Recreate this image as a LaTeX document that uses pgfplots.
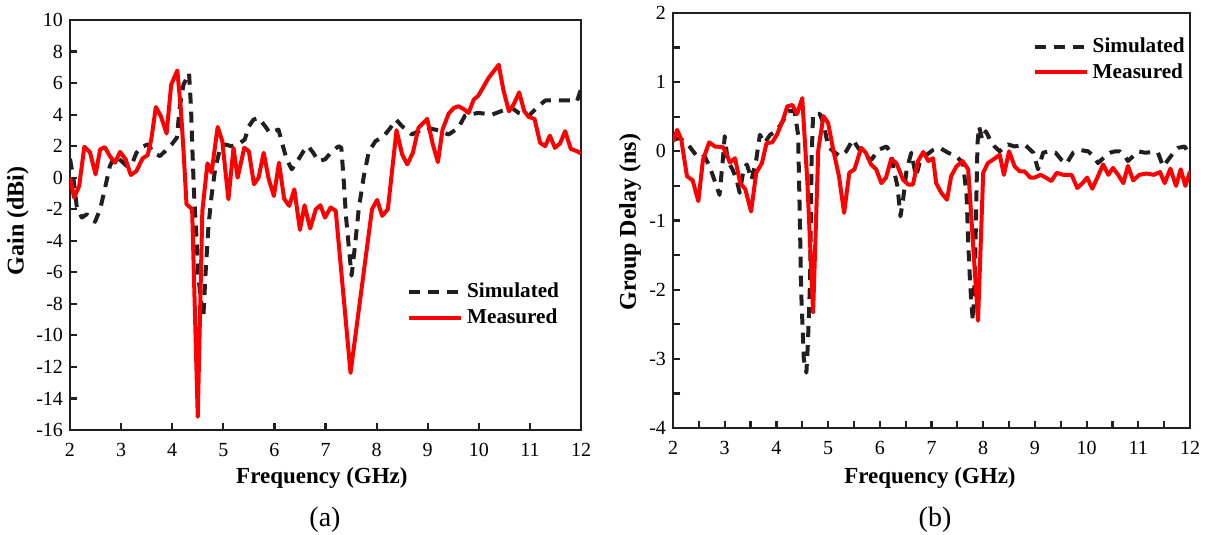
\documentclass[border=0pt]{standalone}
\usepackage{fontspec}
\setmainfont{Liberation Serif}
\usepackage{pgfplots}
\pgfplotsset{compat=1.18}
\definecolor{axblack}{HTML}{231F20}
\pgfplotsset{
  myaxis/.style={
    scale only axis,
    axis line style={axblack, line width=1.3pt},
    tick style={axblack, line width=1.1pt},
    tick align=inside,
    tick pos=left,
    major tick length=3.5pt, minor tick length=3.5pt,
    xmin=2, xmax=12, xtick={2,...,12},
    tick label style={font=\fontsize{10}{12}\selectfont},
    xticklabel style={yshift=-3pt},
    xlabel style={font=\fontsize{11.5}{13}\selectfont\bfseries},
    ylabel style={font=\fontsize{12}{14}\selectfont\bfseries},
    /pgf/number format/assume math mode=true,
    legend style={draw=none, fill=none, font=\fontsize{10.6}{13}\selectfont\bfseries, row sep=0pt, inner sep=0pt},
    legend cell align=left,
    legend image code/.code={\draw[##1] (0pt,0pt) -- (26pt,0pt);},
  },
  simstyle/.style={axblack, line width=2pt, dash pattern=on 5.5pt off 4pt, line join=round},
  messtyle/.style={red, line width=2pt, line join=round},
}
\begin{document}
\begin{tikzpicture}
\useasboundingbox (0pt,0pt) rectangle (605.5pt,267.5pt);
\begin{axis}[myaxis, at={(35pt,52.5pt)}, anchor=south west, width=255.5pt, height=205pt,
  ymin=-16, ymax=10, ytick={-16,-14,...,10},
  xlabel={Frequency (GHz)}, ylabel={Gain (dBi)},
  xlabel style={at={(axis description cs:0.493,-0.117)}, anchor=center},
  ylabel style={at={(axis description cs:-0.102,0.51)}, anchor=center},
  legend style={at={(axis description cs:0.659,0.305)}, anchor=west}]
\addplot[simstyle] coordinates {(2.00,1.20)(2.07,-0.11)(2.13,-1.79)(2.23,-2.53)(2.33,-2.32)(2.49,-2.8)(2.59,-2.0)(2.68,-0.74)(2.78,0.74)(2.88,1.37)(3.01,1.05)(3.11,0.74)(3.21,0.84)(3.30,1.58)(3.40,1.96)(3.53,2.11)(3.63,1.58)(3.76,1.37)(3.86,1.68)(3.99,2.11)(4.09,2.53)(4.15,4.53)(4.22,5.89)(4.33,6.63)(4.37,4.32)(4.39,2.21)(4.43,-1.16)(4.48,-4.1)(4.51,-6.21)(4.56,-7.68)(4.61,-8.84)(4.65,-6.21)(4.71,-3.05)(4.77,-1.16)(4.84,0.53)(4.94,1.89)(5.03,2.11)(5.16,2.0)(5.29,2.11)(5.42,2.42)(5.50,3.26)(5.59,3.68)(5.69,3.79)(5.82,3.26)(5.91,2.84)(6.08,3.05)(6.14,2.32)(6.24,1.16)(6.34,0.53)(6.47,1.16)(6.57,1.68)(6.66,2.0)(6.76,1.58)(6.86,1.05)(6.99,1.16)(7.13,1.68)(7.26,2.0)(7.31,1.89)(7.36,-0.32)(7.40,-2.42)(7.46,-4.53)(7.51,-6.21)(7.57,-4.53)(7.65,-2.0)(7.75,0.1)(7.85,1.68)(7.98,2.32)(8.14,2.63)(8.27,3.16)(8.38,3.68)(8.50,3.26)(8.69,2.74)(8.95,3.16)(9.15,3.05)(9.41,2.74)(9.60,3.16)(9.73,3.94)(9.99,4.11)(10.26,4.0)(10.52,4.32)(10.65,4.42)(10.78,4.11)(10.97,3.89)(11.10,4.32)(11.30,4.9)(11.56,4.9)(11.82,4.9)(11.92,4.84)(12.0,5.62)};
\addlegendentry{Simulated}
\addplot[messtyle] coordinates {(2.0,0)(2.08,-1.26)(2.18,-0.53)(2.28,1.96)(2.39,1.62)(2.50,0.21)(2.59,1.79)(2.68,1.94)(2.78,1.37)(2.88,0.95)(2.98,1.64)(3.09,1.16)(3.19,0.17)(3.30,0.42)(3.42,1.22)(3.52,1.43)(3.59,2.42)(3.68,4.48)(3.78,3.89)(3.89,2.80)(3.98,5.89)(4.10,6.80)(4.17,4.32)(4.22,1.79)(4.28,-1.68)(4.39,-2.0)(4.50,-15.16)(4.59,-2.1)(4.69,0.91)(4.77,0.32)(4.89,3.22)(4.98,2.32)(5.10,-1.37)(5.20,1.89)(5.28,0)(5.41,1.89)(5.50,1.68)(5.60,-0.42)(5.69,0)(5.79,1.58)(5.89,-0.1)(5.99,-1.16)(6.09,0.95)(6.19,-1.33)(6.29,-1.79)(6.39,-0.74)(6.50,-3.31)(6.59,-1.75)(6.70,-3.22)(6.81,-2.0)(6.90,-1.75)(6.99,-2.53)(7.10,-1.89)(7.20,-2.1)(7.49,-12.38)(7.91,-2.0)(8.01,-1.41)(8.11,-2.42)(8.22,-2.0)(8.39,3.01)(8.50,1.47)(8.60,0.84)(8.71,1.58)(8.82,3.16)(8.99,3.73)(9.10,2.11)(9.20,0.99)(9.29,3.05)(9.41,4.06)(9.51,4.42)(9.60,4.53)(9.70,4.36)(9.80,4.11)(9.90,4.95)(9.99,5.2)(10.09,5.75)(10.19,6.32)(10.29,6.74)(10.39,7.16)(10.48,5.58)(10.59,4.21)(10.68,4.63)(10.79,5.41)(10.89,4.21)(10.98,3.85)(11.09,3.73)(11.20,2.21)(11.30,2.0)(11.39,2.67)(11.49,1.89)(11.59,2.17)(11.69,2.95)(11.80,1.83)(11.92,1.68)(12.0,1.54)};
\addlegendentry{Measured}
\end{axis}
\begin{axis}[myaxis, at={(336.5pt,53.5pt)}, anchor=south west, width=258.5pt, height=207.5pt,
  ymin=-4, ymax=2, ytick={-4,...,2}, minor x tick num=1, minor y tick num=1,
  xlabel={Frequency (GHz)}, ylabel={Group Delay (ns)},
  xlabel style={at={(axis description cs:0.497,-0.12)}, anchor=center},
  ylabel style={at={(axis description cs:-0.083,0.496)}, anchor=center},
  legend style={at={(axis description cs:0.695,0.888)}, anchor=west}]
\addplot[simstyle] coordinates {(2.0,0.17)(2.13,0.19)(2.29,0.1)(2.42,-0.03)(2.52,-0.1)(2.61,-0.07)(2.71,-0.22)(2.84,-0.5)(2.90,-0.63)(2.97,-0.07)(3.0,0.22)(3.06,-0.14)(3.15,-0.26)(3.23,-0.41)(3.29,-0.6)(3.37,-0.24)(3.43,-0.19)(3.52,-0.41)(3.61,-0.12)(3.68,0.24)(3.77,0.12)(3.88,0.24)(4.0,0.29)(4.12,0.43)(4.23,0.58)(4.35,0.58)(4.42,0.24)(4.45,-0.84)(4.48,-2.04)(4.53,-3.0)(4.58,-3.2)(4.61,-2.76)(4.65,-1.9)(4.68,-0.12)(4.71,0.54)(4.84,0.54)(4.92,0.38)(5.0,0.07)(5.10,0)(5.23,-0.07)(5.35,0)(5.48,0.17)(5.58,0.05)(5.71,-0.07)(5.84,-0.12)(5.97,0.02)(6.13,0.07)(6.21,-0.02)(6.27,-0.26)(6.34,-0.5)(6.40,-0.94)(6.45,-0.7)(6.52,-0.26)(6.61,-0.02)(6.70,-0.36)(6.77,-0.17)(6.87,-0.07)(7.03,0.02)(7.16,0.05)(7.32,-0.02)(7.48,-0.07)(7.61,-0.17)(7.68,-0.65)(7.71,-1.32)(7.74,-1.8)(7.77,-2.19)(7.80,-2.45)(7.84,-1.8)(7.87,-0.6)(7.89,0.12)(7.92,0.36)(7.98,0.17)(8.05,0.29)(8.13,0.17)(8.22,0.07)(8.32,0)(8.42,0.07)(8.48,0.1)(8.61,0.07)(8.80,0.1)(8.97,-0.02)(9.06,-0.26)(9.16,-0.02)(9.26,0)(9.40,-0.02)(9.51,-0.12)(9.61,-0.18)(9.74,-0.02)(9.87,0.02)(10.03,0)(10.13,-0.07)(10.22,-0.17)(10.32,-0.1)(10.45,-0.02)(10.55,0)(10.64,0)(10.74,-0.07)(10.80,-0.14)(10.90,-0.07)(11.0,0)(11.13,-0.02)(11.29,-0.01)(11.38,-0.02)(11.48,-0.22)(11.58,-0.12)(11.68,-0.02)(11.77,0.05)(11.90,0.07)(11.98,-0.05)};
\addlegendentry{Simulated}
\addplot[messtyle] coordinates {(2.0,0.14)(2.08,0.31)(2.16,0.17)(2.27,-0.36)(2.38,-0.42)(2.49,-0.72)(2.58,-0.12)(2.70,0.13)(2.81,0.07)(2.97,0.06)(3.05,-0.07)(3.10,-0.16)(3.20,-0.1)(3.30,-0.46)(3.40,-0.55)(3.51,-0.87)(3.61,-0.31)(3.72,-0.17)(3.81,0.12)(3.92,0.13)(4.01,0.24)(4.13,0.46)(4.21,0.65)(4.31,0.67)(4.40,0.54)(4.50,0.77)(4.60,-0.46)(4.71,-2.33)(4.81,0.02)(4.91,0.51)(5.0,0.41)(5.10,0.02)(5.21,-0.36)(5.31,-0.89)(5.41,-0.31)(5.51,-0.26)(5.64,0.05)(5.73,-0.02)(5.83,-0.19)(5.93,-0.26)(6.03,-0.46)(6.12,-0.38)(6.22,-0.11)(6.32,-0.17)(6.45,-0.41)(6.55,-0.48)(6.64,-0.48)(6.74,-0.14)(6.84,-0.01)(6.94,-0.14)(7.03,-0.1)(7.09,-0.46)(7.19,-0.6)(7.30,-0.70)(7.38,-0.36)(7.48,-0.22)(7.60,-0.14)(7.71,-0.26)(7.90,-2.45)(8.0,-0.31)(8.09,-0.17)(8.19,-0.12)(8.32,-0.05)(8.40,-0.34)(8.50,0)(8.61,-0.22)(8.71,-0.29)(8.80,-0.29)(8.91,-0.38)(8.99,-0.38)(9.11,-0.34)(9.21,-0.38)(9.32,-0.43)(9.42,-0.31)(9.55,-0.34)(9.71,-0.34)(9.82,-0.53)(9.92,-0.46)(10.01,-0.38)(10.11,-0.54)(10.22,-0.36)(10.32,-0.19)(10.42,-0.34)(10.51,-0.24)(10.61,-0.34)(10.71,-0.46)(10.80,-0.21)(10.90,-0.42)(11.02,-0.34)(11.16,-0.32)(11.30,-0.34)(11.42,-0.30)(11.51,-0.46)(11.62,-0.25)(11.73,-0.50)(11.82,-0.26)(11.91,-0.50)(12.0,-0.29)};
\addlegendentry{Measured}
\end{axis}
\node[font=\fontsize{14}{16}\selectfont] at (162.5pt,7.5pt) {(a)};
\node[font=\fontsize{14}{16}\selectfont] at (467.5pt,7.5pt) {(b)};
\end{tikzpicture}
\end{document}
